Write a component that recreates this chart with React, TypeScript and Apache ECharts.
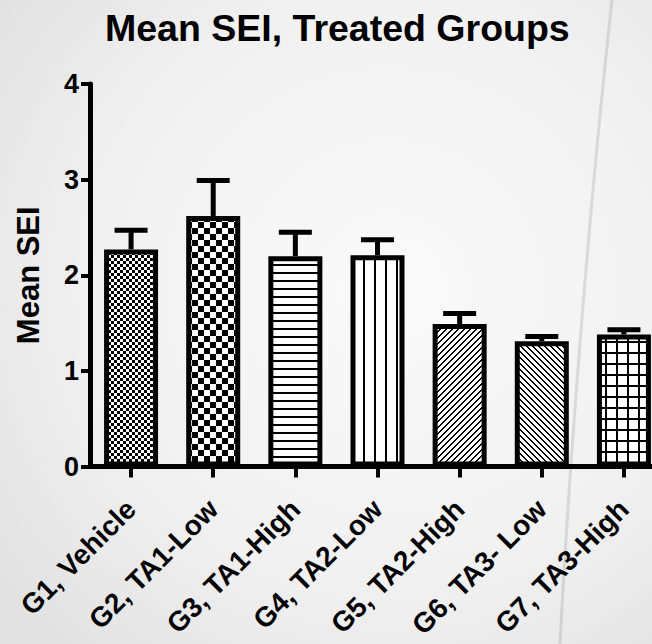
import React, { useEffect, useRef } from 'react';
import * as echarts from 'echarts';

const categories = ['G1, Vehicle', 'G2, TA1-Low', 'G3, TA1-High', 'G4, TA2-Low', 'G5, TA2-High', 'G6, TA3- Low', 'G7, TA3-High'];
const meanValues = [2.27, 2.62, 2.2, 2.21, 1.49, 1.31, 1.38];
const semValues = [0.2, 0.37, 0.25, 0.16, 0.11, 0.05, 0.05];
const yTickValues = [0, 1, 2, 3, 4];
const patternKinds = ['checkFine', 'checkCoarse', 'hLines', 'vLines', 'diagUp', 'diagDown', 'grid'];

function makePattern(kind: string): HTMLCanvasElement {
  const c = document.createElement('canvas');
  let w = 6, h = 6;
  if (kind === 'checkCoarse') { w = 12; h = 12; }
  if (kind === 'hLines') { w = 8; h = 8; }
  if (kind === 'vLines') { w = 11; h = 11; }
  if (kind === 'grid') { w = 11; h = 11; }
  c.width = w; c.height = h;
  const ctx = c.getContext('2d')!;
  ctx.fillStyle = '#ffffff';
  ctx.fillRect(0, 0, w, h);
  ctx.fillStyle = '#000000';
  if (kind === 'checkFine') {
    ctx.fillRect(0, 0, 3, 3); ctx.fillRect(3, 3, 3, 3);
  } else if (kind === 'checkCoarse') {
    ctx.fillRect(0, 0, 6, 6); ctx.fillRect(6, 6, 6, 6);
  } else if (kind === 'hLines') {
    ctx.fillRect(0, 0, w, 2);
  } else if (kind === 'vLines') {
    ctx.fillRect(0, 0, 2, h);
  } else if (kind === 'grid') {
    ctx.fillRect(0, 0, w, 2); ctx.fillRect(0, 0, 2, h);
  } else if (kind === 'diagUp' || kind === 'diagDown') {
    for (let y = 0; y < h; y++) {
      for (let x = 0; x < w; x++) {
        const k = kind === 'diagUp' ? (x + y) % w : (x - y + w) % w;
        if (k < 2) ctx.fillRect(x, y, 1, 1);
      }
    }
  }
  return c;
}

export default function App() {
  const ref = useRef<HTMLDivElement>(null);
  useEffect(() => {
    document.body.style.margin = '0';
    const chart = echarts.init(ref.current!, null, { renderer: 'svg' });
    const font = 'Liberation Sans, Arial, Helvetica, sans-serif';
    const barData = meanValues.map((v, i) => ({
      value: v,
      itemStyle: { color: { image: makePattern(patternKinds[i]), repeat: 'repeat' } },
    }));
    const errData = meanValues.map((m, i) => [i, m, semValues[i]]);
    chart.setOption({
      animation: false,
      backgroundColor: '#eeeeee',
      graphic: [
        {
          type: 'rect', z: -10, silent: true,
          shape: { x: 0, y: 0, width: 652, height: 644 },
          style: {
            fill: {
              type: 'radial', x: 0.6, y: 0.45, r: 0.75,
              colorStops: [
                { offset: 0, color: '#fafafa' },
                { offset: 0.6, color: '#f1f1f1' },
                { offset: 1, color: '#e2e2e2' },
              ],
            },
          },
        },
        {
          type: 'bezierCurve', z: -9, silent: true,
          shape: { x1: 612, y1: 0, x2: 560, y2: 644, cpx1: 590, cpy1: 200, cpx2: 570, cpy2: 450 },
          style: { stroke: 'rgba(140,140,140,0.25)', lineWidth: 3, fill: null },
        },
      ],
      title: {
        text: 'Mean SEI, Treated Groups',
        left: 100, top: 4,
        textStyle: { fontFamily: font, fontWeight: 'bold', fontSize: 37.5, color: '#000' },
      },
      grid: { left: 90, width: 575, top: 84, bottom: 177.5, containLabel: false, outerBoundsMode: 'none' },
      xAxis: {
        type: 'category',
        data: categories,
        axisLine: { show: true, lineStyle: { color: '#000', width: 5 } },
        axisTick: { show: true, alignWithLabel: true, length: 11, lineStyle: { color: '#000', width: 4 } },
        axisLabel: { rotate: 45, margin: 38, color: '#000', fontFamily: font, fontWeight: 'bold', fontSize: 28, interval: 0 },
        splitLine: { show: false },
      },
      yAxis: {
        type: 'value',
        min: yTickValues[0],
        max: yTickValues[yTickValues.length - 1],
        interval: 1,
        name: 'Mean SEI',
        nameLocation: 'middle',
        nameGap: 46,
        nameTextStyle: { fontFamily: font, fontWeight: 'bold', fontSize: 31, color: '#000' },
        axisLine: { show: true, lineStyle: { color: '#000', width: 5 } },
        axisTick: { show: true, length: 9, lineStyle: { color: '#000', width: 4 } },
        axisLabel: { margin: 11, color: '#000', fontFamily: font, fontWeight: 'bold', fontSize: 27 },
        splitLine: { show: false },
      },
      series: [
        {
          type: 'bar',
          data: barData,
          barWidth: 54,
          itemStyle: { borderColor: '#000', borderWidth: 5 },
          z: 2,
        },
        {
          type: 'custom',
          data: errData,
          encode: { x: 0, y: 1 },
          z: 3,
          renderItem: (params: any, api: any) => {
            const i = api.value(0);
            const m = api.value(1);
            const e = api.value(2);
            const base = api.coord([i, m]);
            const top = api.coord([i, m + e]);
            return {
              type: 'group',
              children: [
                { type: 'line', shape: { x1: base[0], y1: base[1], x2: top[0], y2: top[1] }, style: { stroke: '#000', lineWidth: 5 } },
                { type: 'line', shape: { x1: top[0] - 16.5, y1: top[1], x2: top[0] + 16.5, y2: top[1] }, style: { stroke: '#000', lineWidth: 5 } },
              ],
            };
          },
        },
      ],
    });
    return () => chart.dispose();
  }, []);
  return <div ref={ref} style={{ position: 'absolute', left: 0, top: 0, width: 652, height: 644 }} />;
}
